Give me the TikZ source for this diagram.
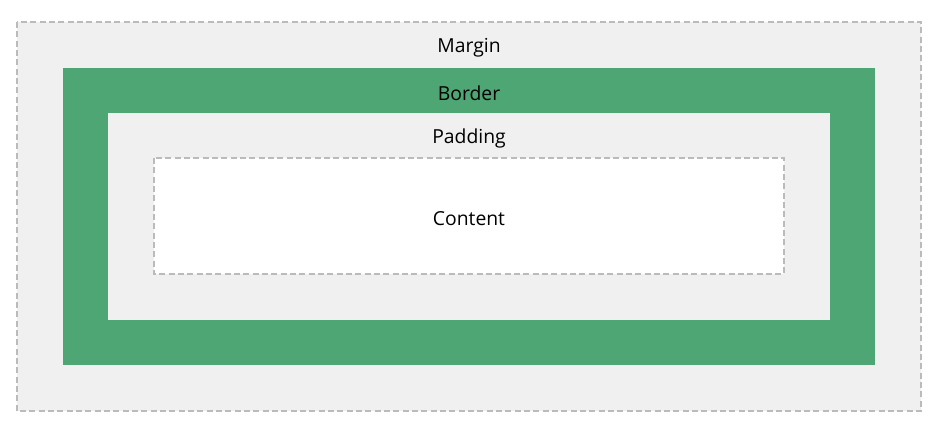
\documentclass[tikz,border=0pt]{standalone}
\usepackage{fontspec}
\setmainfont{Open Sans}
\definecolor{boxgrey}{HTML}{F0F0F0}
\definecolor{bordergreen}{HTML}{4EA674}
\definecolor{dashgrey}{HTML}{BBBBBB}
\begin{document}
\begin{tikzpicture}[x=0.75pt,y=-0.75pt,
    dashbox/.style={draw=dashgrey,line width=1.1pt,dash pattern=on 4.5pt off 2.5pt},
    boxlabel/.style={font=\fontsize{14.5}{17}\selectfont,inner sep=0pt}]
        \useasboundingbox (0,0) rectangle (940,425);
        \coordinate (M1) at (17,22);
        \coordinate (M2) at (921,411);
        \coordinate (B1) at (63,68);
        \coordinate (B2) at (875,365);
        \coordinate (P1) at (108,113);
        \coordinate (P2) at (830,320);
        \coordinate (C1) at (154,158);
        \coordinate (C2) at (784,274);
        
        \fill[boxgrey] (M1) rectangle (M2);
        \draw[dashbox] (M1) rectangle (M2);
        \fill[bordergreen] (B1) rectangle (B2);
        \fill[boxgrey] (P1) rectangle (P2);
        \fill[white] (C1) rectangle (C2);
        \draw[dashbox] (C1) rectangle (C2);
        
        \node[boxlabel] (margin) at (469,47.5) {Margin};
        \node[boxlabel] (border) at (469,93.5) {Border};
        \node[boxlabel] (padding) at (469,138.5) {Padding};
        \node[boxlabel] (content) at (469,218.5) {Content};
    \end{tikzpicture}
\end{document}
